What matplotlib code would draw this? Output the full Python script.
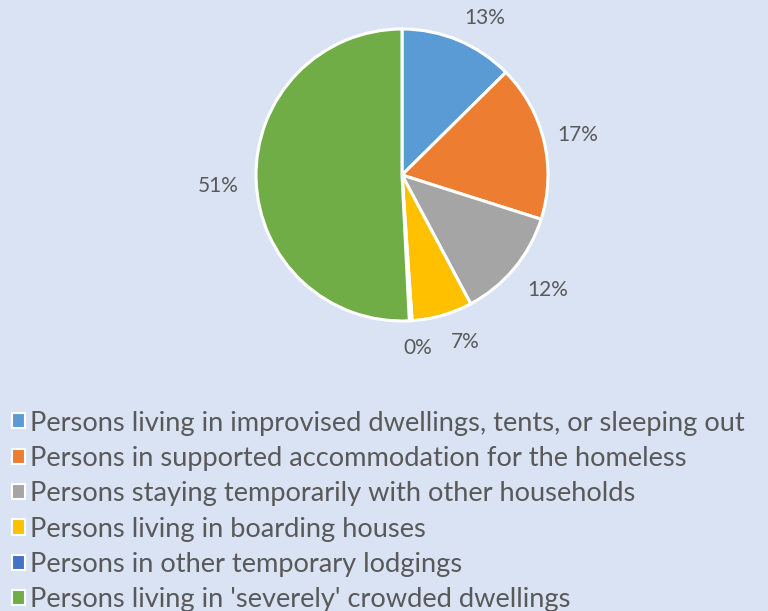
import matplotlib.pyplot as plt
from matplotlib.patches import Patch

# datos del grafico
categorias = [
    "Persons living in improvised dwellings, tents, or sleeping out",
    "Persons in supported accommodation for the homeless",
    "Persons staying temporarily with other households",
    "Persons living in boarding houses",
    "Persons in other temporary lodgings",
    "Persons living in 'severely' crowded dwellings",
]
porcentajes = [12.6, 17.3, 12.3, 6.7, 0.3, 50.8]
colores = ["#5B9BD5", "#ED7D31", "#A5A5A5", "#FFC000", "#4472C4", "#70AD47"]

# posiciones de las etiquetas (relativas al radio)
pos_etiquetas = [(0.568, 1.075), (1.205, 0.274), (1.0, -0.788),
                 (0.43, -1.144), (0.11, -1.185), (-1.26, -0.075)]

fondo = "#DAE3F3"
gris_texto = "#595959"
plt.rcParams['font.family'] = ['Lato', 'DejaVu Sans']

fig = plt.figure(figsize=(7.68, 6.11), dpi=100, facecolor=fondo)
ax = fig.add_axes([0, 0, 1, 1])
ax.set_facecolor(fondo)

cx, cy, r = 402, 611 - 175, 146
wedges, _ = ax.pie(porcentajes, colors=colores, startangle=90, counterclock=False,
                   center=(cx, cy), radius=r, frame=True,
                   wedgeprops=dict(edgecolor='white', linewidth=2.2))
ax.set_xlim(0, 768)
ax.set_ylim(0, 611)
ax.set_aspect('equal')
ax.axis('off')

for p, (dx, dy) in zip(porcentajes, pos_etiquetas):
    ax.text(cx + dx * r, cy + dy * r, f"{round(p)}%", ha='center', va='center',
            fontsize=15, color=gris_texto)

handles = [Patch(facecolor=c, edgecolor='white', linewidth=1.5) for c in colores]
fig.legend(handles, categorias, loc='upper left', bbox_to_anchor=(0.015, 0.328),
           frameon=False, fontsize=19.6, labelcolor=gris_texto,
           handlelength=0.48, handleheight=0.48, handletextpad=0.2,
           labelspacing=0.38, borderpad=0, borderaxespad=0)

fig.savefig("out.png", dpi=100, facecolor=fondo)
